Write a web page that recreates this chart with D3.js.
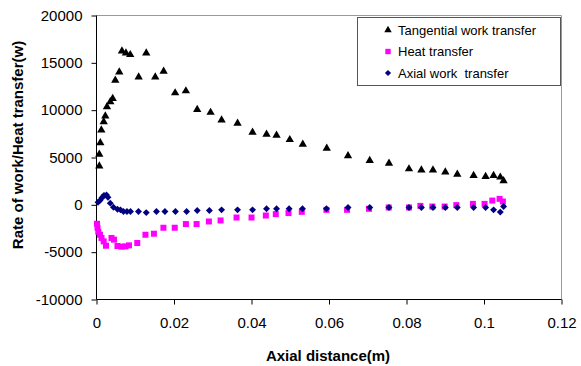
<!DOCTYPE html>
<html>
<head>
<meta charset="utf-8">
<script src="https://cdn.jsdelivr.net/npm/d3@7"></script>
<style>
  body { margin: 0; background: #fff; }
  svg { font-family: Arial, "Liberation Sans", sans-serif; }
</style>
</head>
<body>
<div id="chart"></div>
<script>
// data (x in m, y in W)
let tangentialX = [0.00072, 0.00072, 0.00098, 0.00124, 0.00186, 0.00227, 0.0027, 0.00356, 0.00418, 0.00485,
    0.00588, 0.00657, 0.0076, 0.00871, 0.01088, 0.01284, 0.01516, 0.01732, 0.02029, 0.02307,
    0.02599, 0.02944, 0.03228, 0.0364, 0.04027, 0.04388, 0.04646, 0.04988, 0.05324, 0.05942,
    0.06491, 0.07051, 0.07548, 0.08064, 0.08384, 0.08683, 0.09002, 0.09311, 0.09732, 0.10041,
    0.10247, 0.1042, 0.10505];
let tangentialY = [4100, 5340, 6560, 7900, 8770, 9370, 10350, 10870, 11230, 13160,
    14030, 16240, 16030, 15860, 13500, 16030, 13500, 14100, 11820, 12030,
    10070, 9760, 8950, 8600, 7650, 7440, 7340, 6880, 6400, 5970,
    5180, 4680, 4390, 3790, 3680, 3680, 3470, 3230, 3080, 2980,
    3080, 2920, 2530];

let heatX = [0.00013, 0.00026, 0.00046, 0.0009, 0.00129, 0.00186, 0.00245, 0.00387, 0.00451, 0.00541,
    0.00645, 0.00748, 0.00838, 0.01052, 0.01263, 0.01482, 0.01727, 0.02019, 0.02307, 0.02583,
    0.029, 0.03202, 0.03614, 0.04001, 0.0437, 0.04627, 0.04955, 0.05298, 0.05934, 0.06466,
    0.07033, 0.07541, 0.08064, 0.08358, 0.08667, 0.08984, 0.09286, 0.09714, 0.10015, 0.10214,
    0.10402, 0.10487];
let heatY = [-2000, -2420, -2840, -3160, -3500, -3860, -4320, -3500, -3680, -4350,
    -4420, -4390, -4280, -4030, -3160, -3050, -2420, -2420, -2030, -2030,
    -1760, -1650, -1340, -1340, -1130, -980, -870, -740, -530, -530,
    -420, -280, -280, -110, -180, -180, -30, 100, 100, 450,
    630, 350];

let axialX = [0.00039, 0.0009, 0.00142, 0.00193, 0.00258, 0.00296, 0.00356, 0.00438, 0.00541, 0.00619,
    0.00696, 0.00786, 0.00877, 0.01083, 0.01284, 0.01547, 0.01766, 0.02037, 0.02325, 0.02599,
    0.02913, 0.03228, 0.0364, 0.04027, 0.04388, 0.04646, 0.0497, 0.05316, 0.05934, 0.06491,
    0.07051, 0.07548, 0.08064, 0.08384, 0.08683, 0.09002, 0.09311, 0.09732, 0.10041, 0.10247,
    0.1042, 0.10505];
let axialY = [260, 470, 740, 1000, 1050, 790, 180, -260, -470, -530,
    -700, -700, -700, -700, -820, -700, -700, -700, -700, -600,
    -600, -530, -530, -530, -420, -420, -420, -420, -420, -280,
    -280, -280, -280, -280, -280, -280, -280, -280, -280, -530,
    -770, -180];

let xTicks = [0, 0.02, 0.04, 0.06, 0.08, 0.1, 0.12];
let yTicks = [-10000, -5000, 0, 5000, 10000, 15000, 20000];

let legendNames = ["Tangential work transfer", "Heat transfer", "Axial work  transfer"];

let w = 581, h = 366;
// plot area edges
let pLeft = 96.5, pRight = 561.5, pTop = 15.5, pBottom = 299.5;

let svg = d3.select("#chart")
    .append("svg")
    .attr("width", w)
    .attr("height", h);

let xScale = d3.scaleLinear().domain([0, 0.12]).range([pLeft, pRight]);
let yScale = d3.scaleLinear().domain([-10000, 20000]).range([pBottom, pTop]);

// gray frame on top and right
svg.append("path")
    .attr("d", "M" + pLeft + "," + pTop + "H" + pRight + "V" + pBottom)
    .attr("fill", "none")
    .attr("stroke", "#9a9a9a");

let xAxis = d3.axisBottom(xScale)
    .tickValues(xTicks)
    .tickFormat(d => d3.format("")(+d.toFixed(2)))
    .tickSize(5)
    .tickPadding(13);

let yAxis = d3.axisLeft(yScale)
    .tickValues(yTicks)
    .tickFormat(d => d)
    .tickSize(5)
    .tickPadding(9);

let gx = svg.append("g")
    .attr("transform", "translate(0," + pBottom + ")")
    .call(xAxis);
let gy = svg.append("g")
    .attr("transform", "translate(" + pLeft + ",0)")
    .call(yAxis);

[gx, gy].forEach(g => {
    g.selectAll(".domain").attr("stroke", "#000");
    g.selectAll(".tick line").attr("stroke", "#000");
    g.selectAll("text")
        .attr("font-size", "15px")
        .attr("font-family", "Arial, 'Liberation Sans', sans-serif")
        .attr("fill", "#000");
});
gx.select(".domain").attr("d", "M" + pLeft + ",0H" + pRight);
gy.select(".domain").attr("d", "M0," + pBottom + "V" + pTop);

// axis titles
svg.append("text")
    .attr("x", 328)
    .attr("y", 361)
    .attr("text-anchor", "middle")
    .attr("font-size", "15px")
    .attr("font-weight", "bold")
    .text("Axial distance(m)");

svg.append("text")
    .attr("transform", "translate(22.5,145) rotate(-90)")
    .attr("text-anchor", "middle")
    .attr("font-size", "15px")
    .attr("font-weight", "bold")
    .text("Rate of work/Heat transfer(w)");

// markers - diamond is a square turned 45deg, like Excel's
let series = [
    { xs: tangentialX, ys: tangentialY, color: "#000000", symbol: d3.symbolTriangle, size: 30, rot: 0 },
    { xs: heatX, ys: heatY, color: "#ff00ff", symbol: d3.symbolSquare, size: 36, rot: 0 },
    { xs: axialX, ys: axialY, color: "#000080", symbol: d3.symbolSquare, size: 24, rot: 45 }
];

series.forEach(s => {
    let sym = d3.symbol().type(s.symbol).size(s.size);
    svg.append("g")
        .selectAll("path")
        .data(d3.range(s.xs.length))
        .enter()
        .append("path")
        .attr("d", sym)
        .attr("transform", i => "translate(" + xScale(s.xs[i]) + "," + yScale(s.ys[i]) + ") rotate(" + s.rot + ")")
        .attr("fill", s.color);
});

// legend
let legend = svg.append("g");
legend.append("rect")
    .attr("x", 357.5)
    .attr("y", 17.5)
    .attr("width", 203)
    .attr("height", 68)
    .attr("fill", "#fff")
    .attr("stroke", "#555");

let rowY = [30, 51.5, 73];
series.forEach((s, i) => {
    legend.append("path")
        .attr("d", d3.symbol().type(s.symbol).size(s.size * 0.8))
        .attr("transform", "translate(388," + rowY[i] + ") rotate(" + s.rot + ")")
        .attr("fill", s.color);
    legend.append("text")
        .attr("x", 398)
        .attr("y", rowY[i] + 4.6)
        .attr("font-size", "13px")
        .style("white-space", "pre")
        .text(legendNames[i]);
});
</script>
</body>
</html>
